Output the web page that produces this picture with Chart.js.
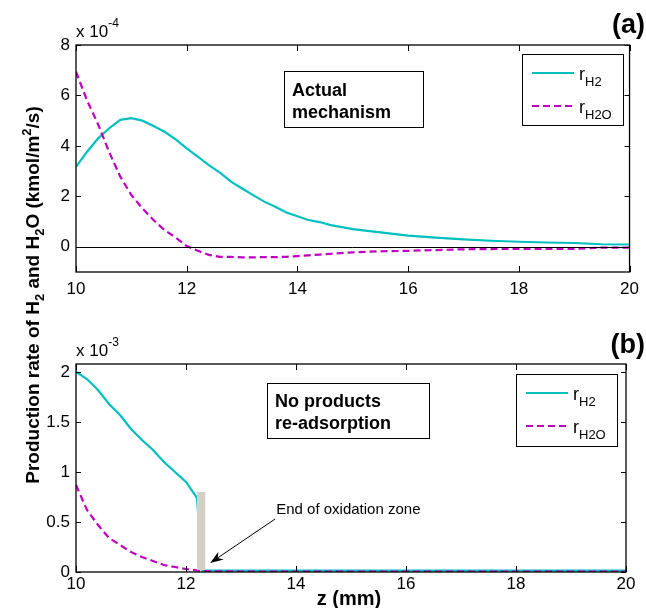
<!DOCTYPE html>
<html>
<head>
<meta charset="utf-8">
<script src="https://cdn.jsdelivr.net/npm/chart.js@4.4.1/dist/chart.umd.min.js"></script>
<style>
html, body { margin: 0; padding: 0; background: #fff; }
#wrap { position: relative; width: 646px; height: 608px; }
#wrap canvas { position: absolute; left: 0; top: 0; }
</style>
</head>
<body>
<div id="wrap">
  <canvas id="chartA" width="646" height="608"></canvas>
  <canvas id="chartB" width="646" height="608"></canvas>
</div>
<script>
// --- Data ---
const xTicks = [10, 12, 14, 16, 18, 20];
const yTicksA = [0, 2, 4, 6, 8];
const yTicksB = [0, 0.5, 1, 1.5, 2];

// (a) actual mechanism, rates in 1e-4 kmol/m2/s
const zA = [10, 10.2, 10.4, 10.6, 10.8, 11, 11.2, 11.4, 11.6, 11.8, 12, 12.2, 12.4, 12.6, 12.8, 13, 13.2, 13.4, 13.6, 13.8, 14, 14.2, 14.4, 14.6, 15, 15.5, 16, 16.5, 17, 17.5, 18, 18.5, 19, 19.5, 20];
const rH2A = [3.17, 3.77, 4.3, 4.7, 5.03, 5.1, 5.0, 4.79, 4.56, 4.26, 3.9, 3.57, 3.24, 2.94, 2.58, 2.31, 2.05, 1.79, 1.59, 1.36, 1.21, 1.06, 0.98, 0.86, 0.7, 0.57, 0.44, 0.36, 0.29, 0.24, 0.2, 0.17, 0.15, 0.1, 0.09];
const rH2OA = [6.94, 5.8, 4.85, 3.75, 2.78, 2.05, 1.52, 1.06, 0.66, 0.37, 0.03, -0.16, -0.32, -0.4, -0.4, -0.42, -0.42, -0.41, -0.41, -0.4, -0.37, -0.34, -0.31, -0.28, -0.22, -0.18, -0.16, -0.13, -0.1, -0.09, -0.08, -0.08, -0.08, -0.03, -0.03];

// (b) no products re-adsorption, rates in 1e-3 kmol/m2/s
const zB = [10, 10.2, 10.4, 10.6, 10.8, 11, 11.2, 11.4, 11.6, 11.8, 12, 12.2, 12.3, 13, 14, 15, 16, 17, 18, 19, 20];
const rH2B = [2.0, 1.93, 1.82, 1.68, 1.57, 1.43, 1.32, 1.22, 1.1, 1.0, 0.9, 0.74, 0.015, 0.015, 0.015, 0.015, 0.015, 0.015, 0.015, 0.015, 0.015];
const rH2OB = [0.87, 0.62, 0.47, 0.34, 0.27, 0.2, 0.15, 0.11, 0.07, 0.05, 0.03, 0.017, 0.008, 0.005, 0.005, 0.005, 0.005, 0.005, 0.005, 0.005, 0.005];

const seriesNames = ['H2', 'H2O'];
const seriesColors = ['#00BFBF', '#BF00BF'];

// end of oxidation zone marker in (b): z range and height
const zoneEndZ = [12.2, 12.35];
const zoneEndTop = 0.8;
// arrow tail / tip and label anchor, data coords of (b)
const arrowTail = [13.62, 0.53];
const arrowTip = [12.44, 0.09];
const arrowLabelAt = [13.64, 0.58];

const FONT = '"Liberation Sans", Arial, Helvetica, sans-serif';

// --- Helpers ---
function lineSet(label, xs, ys, color, dashed) {
    return {
        label: label,
        data: xs.map((x, i) => ({ x: x, y: ys[i] })),
        borderColor: color,
        borderWidth: 2.2,
        borderDash: dashed ? [7, 4] : [],
        pointRadius: 0,
        fill: false,
        tension: 0,
        order: dashed ? 0 : 1
    };
}

function axes(yMin, yMax, yTicks, xPad, xAxisH) {
    const font = { family: FONT, size: 17 };
    return {
        x: {
            type: 'linear', min: 10, max: 20,
            grid: { display: false, drawTicks: false }, border: { display: false },
            ticks: { font: font, color: '#000', padding: xPad, autoSkip: false, maxRotation: 0, callback: v => String(v) },
            afterBuildTicks: s => { s.ticks = xTicks.map(v => ({ value: v })); },
            afterFit: s => { s.height = xAxisH; }
        },
        y: {
            type: 'linear', min: yMin, max: yMax,
            grid: { display: false, drawTicks: false }, border: { display: false },
            ticks: { font: font, color: '#000', padding: 6, autoSkip: false, callback: v => String(v) },
            afterBuildTicks: s => { s.ticks = yTicks.map(v => ({ value: v })); },
            afterFit: s => { s.width = 76; }
        }
    };
}

// draws text pieces [text, size, dy] one after another
function drawRuns(ctx, runs, x, y, weight) {
    let cx = x;
    runs.forEach(([t, size, dy]) => {
        ctx.font = `${weight} ${size}px ${FONT}`;
        ctx.fillText(t, cx, y + dy);
        cx += ctx.measureText(t).width;
    });
    return cx - x;
}

function runsWidth(ctx, runs, weight) {
    let w = 0;
    runs.forEach(([t, size]) => {
        ctx.font = `${weight} ${size}px ${FONT}`;
        w += ctx.measureText(t).width;
    });
    return w;
}

function decor(cfg) {
    return {
        id: 'decor',
        afterDraw(chart) {
            const { ctx, chartArea: a, scales: { x, y } } = chart;
            ctx.save();
            ctx.fillStyle = '#000';
            ctx.textBaseline = 'alphabetic';
            ctx.textAlign = 'left';

            if (cfg.zeroLine) {
                const py = Math.round(y.getPixelForValue(0)) + 0.5;
                ctx.strokeStyle = '#000'; ctx.lineWidth = 1;
                ctx.beginPath(); ctx.moveTo(a.left, py); ctx.lineTo(a.right, py); ctx.stroke();
            }

            if (cfg.extra) cfg.extra(chart);

            // axes box + inward ticks
            ctx.strokeStyle = '#000'; ctx.lineWidth = 1.3;
            ctx.strokeRect(a.left, a.top, a.right - a.left, a.bottom - a.top);
            ctx.lineWidth = 1;
            ctx.beginPath();
            xTicks.forEach(v => {
                const px = Math.round(x.getPixelForValue(v)) + 0.5;
                ctx.moveTo(px, a.bottom); ctx.lineTo(px, a.bottom - 6);
                ctx.moveTo(px, a.top); ctx.lineTo(px, a.top + 6);
            });
            cfg.yTicks.forEach(v => {
                const py = Math.round(y.getPixelForValue(v)) + 0.5;
                ctx.moveTo(a.left, py); ctx.lineTo(a.left + 5, py);
                ctx.moveTo(a.right, py); ctx.lineTo(a.right - 5, py);
            });
            ctx.stroke();

            // exponent label
            const ew = drawRuns(ctx, [['x 10', 17, 0]], a.left, cfg.expBase, 'normal');
            drawRuns(ctx, [[cfg.exp, 12, -10]], a.left + ew, cfg.expBase, 'normal');

            // note box
            const nb = cfg.note;
            ctx.strokeStyle = '#000'; ctx.lineWidth = 1;
            ctx.strokeRect(nb.l + 0.5, nb.t + 0.5, nb.r - nb.l, nb.b - nb.t);
            ctx.font = `bold 18px ${FONT}`;
            nb.lines.forEach((t, i) => ctx.fillText(t, nb.l + 8, nb.base[i]));

            // legend
            const lg = cfg.legend;
            ctx.fillStyle = '#fff';
            ctx.fillRect(lg.l, lg.t, lg.r - lg.l, lg.b - lg.t);
            ctx.strokeRect(lg.l + 0.5, lg.t + 0.5, lg.r - lg.l, lg.b - lg.t);
            ctx.fillStyle = '#000';
            seriesNames.forEach((name, i) => {
                const ly = lg.rows[i];
                ctx.strokeStyle = seriesColors[i];
                ctx.lineWidth = 2.2;
                ctx.setLineDash(i === 1 ? [7, 4] : []);
                ctx.beginPath(); ctx.moveTo(lg.l + 10, ly); ctx.lineTo(lg.l + 52, ly); ctx.stroke();
                ctx.setLineDash([]);
                drawRuns(ctx, [['r', 18, 0], [name, 13, 6]], lg.l + 57, ly + 7, 'normal');
            });

            // panel letter
            ctx.font = `bold 27px ${FONT}`;
            ctx.textAlign = 'right';
            ctx.fillText(cfg.panel, 645, cfg.panelBase);
            ctx.restore();
        }
    };
}

function makeChart(id, sets, scales, padding, plugin) {
    return new Chart(document.getElementById(id), {
        type: 'line',
        data: { datasets: sets },
        options: {
            responsive: false, animation: false,
            layout: { padding: padding },
            plugins: { legend: { display: false }, tooltip: { enabled: false } },
            scales: scales
        },
        plugins: [plugin]
    });
}

// --- Panel (a) ---
makeChart('chartA',
    [lineSet('r_H2', zA, rH2A, seriesColors[0], false), lineSet('r_H2O', zA, rH2OA, seriesColors[1], true)],
    axes(-1, 8, yTicksA, 7, 28),
    { top: 45, right: 16, bottom: 308, left: 0 },
    decor({
        zeroLine: true, yTicks: yTicksA, exp: '-4', expBase: 37,
        note: { l: 284, t: 71, r: 423, b: 127, lines: ['Actual', 'mechanism'], base: [96, 118] },
        legend: { l: 522, t: 54, r: 623, b: 125, rows: [73, 106] },
        panel: '(a)', panelBase: 33
    })
);

// --- Panel (b) ---
makeChart('chartB',
    [lineSet('r_H2', zB, rH2B, seriesColors[0], false), lineSet('r_H2O', zB, rH2OB, seriesColors[1], true)],
    axes(0, 2.08, yTicksB, 2, 22),
    { top: 364, right: 20, bottom: 14, left: 0 },
    decor({
        zeroLine: false, yTicks: yTicksB, exp: '-3', expBase: 356,
        note: { l: 267, t: 383, r: 429, b: 438, lines: ['No products', 're-adsorption'], base: [407, 429] },
        legend: { l: 516, t: 374, r: 617, b: 446, rows: [393, 426] },
        panel: '(b)', panelBase: 353,
        extra: chart => {
            const { ctx, scales: { x, y } } = chart;
            // end of oxidation zone bar
            const x0 = x.getPixelForValue(zoneEndZ[0]), x1 = x.getPixelForValue(zoneEndZ[1]);
            const y0 = y.getPixelForValue(0), y1 = y.getPixelForValue(zoneEndTop);
            ctx.fillStyle = '#D4D0C8';
            ctx.fillRect(x0, y1, x1 - x0, y0 - y1 - 2);

            // arrow + label
            const tx = x.getPixelForValue(arrowTail[0]), ty = y.getPixelForValue(arrowTail[1]);
            const hx = x.getPixelForValue(arrowTip[0]), hy = y.getPixelForValue(arrowTip[1]);
            const ang = Math.atan2(hy - ty, hx - tx);
            ctx.strokeStyle = '#000'; ctx.lineWidth = 1;
            ctx.beginPath(); ctx.moveTo(tx, ty); ctx.lineTo(hx - 8 * Math.cos(ang), hy - 8 * Math.sin(ang)); ctx.stroke();
            ctx.fillStyle = '#000';
            ctx.beginPath();
            ctx.moveTo(hx, hy);
            ctx.lineTo(hx - 14 * Math.cos(ang - 0.35), hy - 14 * Math.sin(ang - 0.35));
            ctx.lineTo(hx - 9 * Math.cos(ang), hy - 9 * Math.sin(ang));
            ctx.lineTo(hx - 14 * Math.cos(ang + 0.35), hy - 14 * Math.sin(ang + 0.35));
            ctx.closePath(); ctx.fill();
            ctx.font = `15px ${FONT}`;
            ctx.fillText('End of oxidation zone', x.getPixelForValue(arrowLabelAt[0]), y.getPixelForValue(arrowLabelAt[1]));

            // shared y title (rotated) and x title
            const titleRuns = [
                ['Production rate of H', 19, 0], ['2', 13, 5], [' and H', 19, 0], ['2', 13, 5],
                ['O (kmol/m', 19, 0], ['2', 13, -8], ['/s)', 19, 0]
            ];
            const tw = runsWidth(ctx, titleRuns, 'bold');
            ctx.save();
            ctx.translate(39, 295);
            ctx.rotate(-Math.PI / 2);
            drawRuns(ctx, titleRuns, -tw / 2, 0, 'bold');
            ctx.restore();
            ctx.font = `bold 20px ${FONT}`;
            ctx.textAlign = 'center';
            ctx.fillText('z (mm)', 349, 605);
            ctx.textAlign = 'left';
        }
    })
);
</script>
</body>
</html>
